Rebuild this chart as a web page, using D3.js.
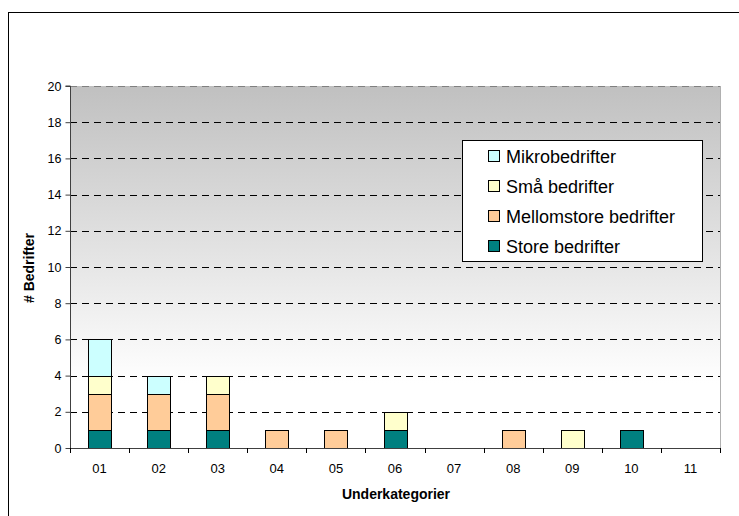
<!DOCTYPE html>
<html><head><meta charset="utf-8">
<script src="https://cdn.jsdelivr.net/npm/d3@7"></script>
<style>body{margin:0;background:#fff}svg{display:block}text{font-family:"Liberation Sans",Arial,sans-serif}</style>
</head><body><svg id="c" width="739" height="516"></svg>
<script>
const categories = ["01","02","03","04","05","06","07","08","09","10","11"];
const seriesNames = ["Store bedrifter","Mellomstore bedrifter","Små bedrifter","Mikrobedrifter"];
const store  = [1,1,1,0,0,1,0,0,0,1,0];
const mellom = [2,2,2,1,1,0,0,1,0,0,0];
const smaa   = [1,0,1,0,0,1,0,0,1,0,0];
const mikro  = [2,1,0,0,0,0,0,0,0,0,0];
const colors = ["#008080","#FFCC99","#FFFFCC","#CCFFFF"];
const yTicks = [0,2,4,6,8,10,12,14,16,18,20];

const svg = d3.select("#c");
const m = {l:70, r:720, t:86, b:448};
svg.append("rect").attr("x",8.5).attr("y",12.5).attr("width",760).attr("height",560)
  .attr("fill","#fff").attr("stroke","#000").attr("stroke-width",1);

const x = d3.scaleBand().domain(categories).range([m.l,m.r]);
const y = d3.scaleLinear().domain([0,20]).range([m.b,m.t]);

const defs = svg.append("defs");
const g = defs.append("linearGradient").attr("id","bg").attr("x1",0).attr("y1",0).attr("x2",0).attr("y2",1);
g.append("stop").attr("offset","0%").attr("stop-color","#c0c0c0");
g.append("stop").attr("offset","82%").attr("stop-color","#ffffff");
g.append("stop").attr("offset","100%").attr("stop-color","#ffffff");
svg.append("rect").attr("x",m.l).attr("y",m.t).attr("width",m.r-m.l).attr("height",m.b-m.t).attr("fill","url(#bg)");

svg.append("g").selectAll("line").data(yTicks.filter(d=>d>0)).join("line")
  .attr("x1",m.l).attr("x2",m.r).attr("y1",d=>Math.round(y(d))+0.5).attr("y2",d=>Math.round(y(d))+0.5)
  .attr("stroke",d=>d===20?"#808080":"#000").attr("stroke-dasharray","7,5").attr("stroke-width",1);
svg.append("line").attr("x1",m.r+0.5).attr("x2",m.r+0.5).attr("y1",m.t).attr("y2",m.b).attr("stroke","#b0b0b0");

const rows = categories.map((c,i)=>({cat:c, s0:store[i], s1:mellom[i], s2:smaa[i], s3:mikro[i]}));
const stack = d3.stack().keys(["s0","s1","s2","s3"])(rows);
const bw = 23;
stack.forEach((layer,k)=>{
  svg.append("g").selectAll("rect").data(layer.filter(d=>d[1]-d[0]>0)).join("rect")
    .attr("x",d=>Math.round(x(d.data.cat)+x.bandwidth()/2-bw/2)+0.5)
    .attr("y",d=>Math.round(y(d[1]))+0.5)
    .attr("width",bw)
    .attr("height",d=>Math.round(y(d[0]))-Math.round(y(d[1])))
    .attr("fill",colors[k]).attr("stroke","#000").attr("stroke-width",1);
});

const ya = svg.append("g").attr("transform",`translate(${m.l+0.5},0)`)
  .call(d3.axisLeft(y).tickValues(yTicks).tickSize(5).tickPadding(4));
ya.select(".domain").attr("stroke","#404040").attr("d",`M-5,${m.t}H0V${m.b}`);
ya.selectAll(".tick line").attr("stroke","#404040");
ya.selectAll("text").attr("font-size",12.5).attr("fill","#000").attr("font-family","Liberation Sans, Arial");

const xa = svg.append("g").attr("transform",`translate(0,${m.b+0.5})`)
  .call(d3.axisBottom(x).tickSize(0).tickPadding(15));
xa.select(".domain").attr("stroke","#404040").attr("d",`M${m.l},0H${m.r}`);
xa.selectAll("text").attr("font-size",13).attr("fill","#000").attr("font-family","Liberation Sans, Arial");
svg.append("g").selectAll("line").data(categories.concat(["end"])).join("line")
  .attr("x1",(d,i)=>Math.round(m.l+i*x.step())+0.5).attr("x2",(d,i)=>Math.round(m.l+i*x.step())+0.5)
  .attr("y1",m.b).attr("y2",m.b+5).attr("stroke","#000");

svg.append("text").attr("x",396).attr("y",499).attr("text-anchor","middle")
  .attr("font-size",14).attr("font-weight","bold").text("Underkategorier");
svg.append("text").attr("transform","translate(34,268) rotate(-90)").attr("text-anchor","middle")
  .attr("font-size",14).attr("font-weight","bold").text("# Bedrifter");

const lg = svg.append("g");
lg.append("rect").attr("x",462.5).attr("y",140.5).attr("width",240).attr("height",121)
  .attr("fill","#fff").attr("stroke","#000");
const legendOrder = [3,2,1,0];
legendOrder.forEach((k,i)=>{
  const cy = 156 + i*30;
  lg.append("rect").attr("x",488.5).attr("y",cy-5.5).attr("width",11).attr("height",11)
    .attr("fill",colors[k]).attr("stroke","#000");
  lg.append("text").attr("x",506).attr("y",cy+6.5).attr("font-size",18).text(seriesNames[k]);
});
</script></body></html>
